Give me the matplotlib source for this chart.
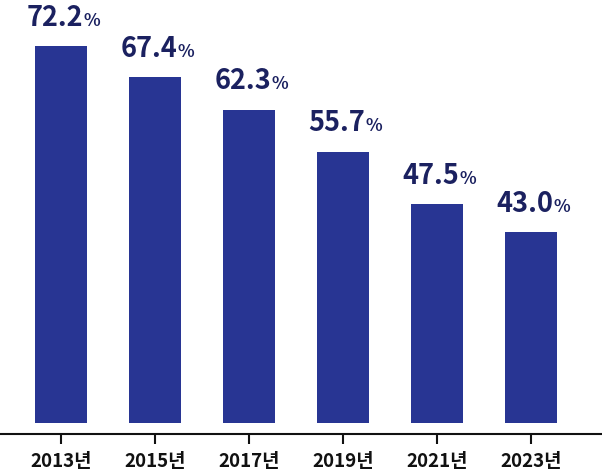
import matplotlib.pyplot as plt
import numpy as np

years = ['2013년', '2015년', '2017년', '2019년', '2021년', '2023년']
values = [72.2, 67.4, 62.3, 55.7, 47.5, 43.0]

plt.rcParams['font.family'] = ['Noto Sans CJK KR', 'DejaVu Sans']

bar_color = '#283593'
label_color = '#1b2160'

fig = plt.figure(figsize=(6.02, 4.70), dpi=100)
ax = fig.add_axes([0, 0.1, 1, 0.9])

x = np.arange(len(years))
ax.bar(x, values, width=0.553, color=bar_color, zorder=2)

ax.set_xlim(-0.649, 5.755)
ax.set_ylim(13.06, 79.5)

for xi, v in zip(x, values):
    ax.annotate(f'{v:.1f}', (xi, v), xytext=(16, 14.5), textcoords='offset points',
                ha='right', va='baseline', fontsize=19.5, fontweight='black',
                color=label_color, annotation_clip=False)
    ax.annotate('%', (xi, v), xytext=(16.5, 14.5), textcoords='offset points',
                ha='left', va='baseline', fontsize=12.5, fontweight='bold',
                color=label_color, annotation_clip=False)

for s in ['top', 'left', 'right']:
    ax.spines[s].set_visible(False)
ax.spines['bottom'].set_position(('outward', 7.6))
ax.spines['bottom'].set_linewidth(1.5)
ax.spines['bottom'].set_color('#111111')

ax.set_yticks([])
ax.set_xticks(x)
ax.set_xticklabels(years, fontsize=13.5, fontweight='black', color='#111111')
ax.tick_params(axis='x', length=7.5, width=1.5, color='#111111', pad=5.5)

fig.savefig('out.png', dpi=100)
